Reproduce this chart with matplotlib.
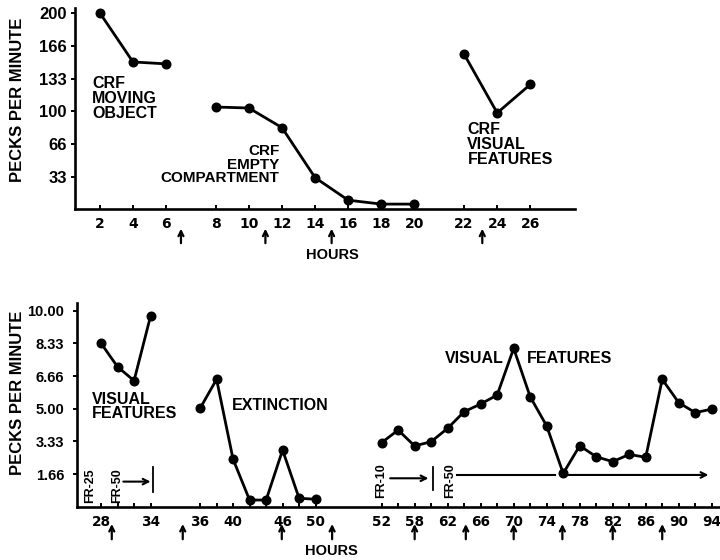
import numpy as np
import matplotlib
matplotlib.use("Agg")
import matplotlib.pyplot as plt
from matplotlib.ticker import FixedLocator

# ---------------- data: hours and pecks per minute ----------------
# upper panel (CRF sessions)
moving_hours = [2, 4, 6]
moving_rate = [200, 150, 148]
empty_hours = [8, 10, 12, 14, 16, 18, 20]
empty_rate = [104, 103, 83, 32, 9, 5, 5]
crf_visual_hours = [22, 24, 26]
crf_visual_rate = [158, 98, 127]
top_tick_hours = [2, 4, 6, 8, 10, 12, 14, 16, 18, 20, 22, 24, 26]
top_arrow_hours = [6.6, 11, 15, 23.1]
top_yticks = [200, 166, 133, 100, 66, 33]
top_ylabels = ["200", "166", "133", "100", "66", "33"]

# lower panel (FR sessions and extinction)
fr_visual_hours = [28, 30, 32, 34]
fr_visual_rate = [8.34, 7.14, 6.43, 9.73]
extinction_hours = [36, 38, 40, 42, 44, 46, 48, 50]
extinction_rate = [5.02, 6.50, 2.42, 0.34, 0.34, 2.89, 0.43, 0.38]
late_hours = [52, 55, 58, 60, 62, 64, 66, 68, 70, 72, 74, 76, 78, 80,
              82, 84, 86, 88, 90, 92, 94]
late_rate = [3.27, 3.91, 3.10, 3.32, 4.00, 4.85, 5.24, 5.70, 8.08, 5.61,
             4.12, 1.70, 3.11, 2.55, 2.30, 2.67, 2.52, 6.50, 5.31, 4.80, 4.98]
bottom_tick_hours = [28, 34, 36, 40, 46, 50, 52, 58, 62, 66, 70, 74, 78,
                     82, 86, 90, 94]
bottom_arrow_hours = [29.3, 35.3, 45.9, 50.5, 58, 64.2, 70, 75.9, 82, 88]
bottom_yticks = [10.0, 8.33, 6.66, 5.0, 3.33, 1.66]
bottom_ylabels = ["10.00", "8.33", "6.66", "5.00", "3.33", "1.66"]

# ---------------- broken hour axes (gaps between sessions) ----------------
def piecewise_scale(knot_hours, knot_pos):
    kh = np.asarray(knot_hours, float)
    kp = np.asarray(knot_pos, float)
    return (lambda x: np.interp(x, kh, kp), lambda p: np.interp(p, kp, kh))

top_scale = piecewise_scale([-100, 6, 8, 20, 22, 300],
                            [-100, 6, 9, 21, 24, 302])
bottom_scale = piecewise_scale([-100, 34, 36, 50, 52, 58, 300],
                               [-100, 34, 40, 54, 62, 66, 308])

TICK_FONT = ["DejaVu Sans"]
TEXT_FONT = ["Liberation Sans", "DejaVu Sans"]
LINE = dict(color="black", lw=2.0, marker="o", ms=6.2, mfc="black",
            mec="black", clip_on=False, solid_joinstyle="round")

fig = plt.figure(figsize=(7.2, 5.6), dpi=100)
W, H = 720.0, 560.0
ax1 = fig.add_axes([75 / W, 1 - 209 / H, 500 / W, 201 / H])
ax2 = fig.add_axes([76.7 / W, 1 - 506.7 / H, 643.3 / W, 203.4 / H])

for ax in (ax1, ax2):
    for side in ("top", "right"):
        ax.spines[side].set_visible(False)
    for side in ("left", "bottom"):
        ax.spines[side].set_linewidth(1.9)
    ax.set_facecolor("white")

# ---------------- upper panel ----------------
ax1.set_xscale("function", functions=top_scale)
ax1.plot(moving_hours, moving_rate, **LINE)
ax1.plot(empty_hours, empty_rate, **LINE)
ax1.plot(crf_visual_hours, crf_visual_rate, **LINE)
ax1.set_xlim(0.5, 28.7)
ax1.set_ylim(0, 205)
ax1.xaxis.set_major_locator(FixedLocator(top_tick_hours))
ax1.set_xticklabels([str(h) for h in top_tick_hours],
                    family=TICK_FONT, weight="bold", fontsize=10)
ax1.set_yticks(top_yticks)
ax1.set_yticklabels(top_ylabels, family=TEXT_FONT, weight="bold",
                    fontsize=12)
ax1.tick_params(axis="x", direction="in", length=3, width=1.4, pad=6)
ax1.tick_params(axis="y", direction="out", length=3, width=1.4, pad=3)

for h in top_arrow_hours:
    ax1.annotate("", xy=(h, -0.098), xytext=(h, -0.17),
                 xycoords=("data", "axes fraction"),
                 textcoords=("data", "axes fraction"),
                 arrowprops=dict(arrowstyle="->", lw=1.6, color="black",
                                 shrinkA=0, shrinkB=0,
                                 mutation_scale=9),
                 annotation_clip=False)

ax1.text(1.52, 136, "CRF\nMOVING\nOBJECT", ha="left", va="top",
         family=TEXT_FONT, weight="bold", fontsize=11.5, linespacing=1.0)
ax1.text(11.85, 66, "CRF\nEMPTY\nCOMPARTMENT", ha="right", va="top",
         multialignment="right", family=TEXT_FONT, weight="bold",
         fontsize=11, linespacing=0.95)
ax1.text(22.2, 89, "CRF\nVISUAL\nFEATURES", ha="left", va="top",
         family=TEXT_FONT, weight="bold", fontsize=11.5, linespacing=1.0)

# ---------------- lower panel ----------------
ax2.set_xscale("function", functions=bottom_scale)
ax2.plot(fr_visual_hours, fr_visual_rate, **LINE)
ax2.plot(extinction_hours, extinction_rate, **LINE)
ax2.plot(late_hours, late_rate, **LINE)
ax2.set_xlim(25.05, 95.0)
ax2.set_ylim(0, 10.38)
ax2.xaxis.set_major_locator(FixedLocator(bottom_tick_hours))
ax2.xaxis.set_minor_locator(
    FixedLocator(fr_visual_hours + extinction_hours + late_hours))
ax2.set_xticklabels([str(h) for h in bottom_tick_hours],
                    family=TICK_FONT, weight="bold", fontsize=9.8)
ax2.set_yticks(bottom_yticks)
ax2.set_yticklabels(bottom_ylabels, family=TEXT_FONT, weight="bold",
                    fontsize=10.5)
ax2.tick_params(axis="x", which="both", direction="in", length=3,
                width=1.4, pad=6)
ax2.tick_params(axis="y", direction="out", length=3, width=1.4, pad=6)

for h in bottom_arrow_hours:
    ax2.annotate("", xy=(h, -0.085), xytext=(h, -0.16),
                 xycoords=("data", "axes fraction"),
                 textcoords=("data", "axes fraction"),
                 arrowprops=dict(arrowstyle="->", lw=1.6, color="black",
                                 shrinkA=0, shrinkB=0,
                                 mutation_scale=9),
                 annotation_clip=False)

ax2.text(26.87, 5.85, "VISUAL\nFEATURES", ha="left", va="top",
         family=TEXT_FONT, weight="bold", fontsize=11.5, linespacing=0.9)
ax2.text(39.84, 5.19, "EXTINCTION", ha="left", va="center",
         family=TEXT_FONT, weight="bold", fontsize=11.5)
ax2.text(61.7, 7.54, "VISUAL", ha="left", va="center",
         family=TEXT_FONT, weight="bold", fontsize=11.5)
ax2.text(71.6, 7.54, "FEATURES", ha="left", va="center",
         family=TEXT_FONT, weight="bold", fontsize=11.5)

# fixed-ratio schedule markers
FR = dict(rotation=90, ha="center", va="bottom", family=TEXT_FONT,
          weight="bold", fontsize=9)
ax2.text(26.67, 0.19, "FR-25", **FR)
ax2.text(30.0, 0.19, "FR-50", **FR)
ax2.text(51.97, 0.43, "FR-10", **FR)
ax2.text(62.3, 0.43, "FR-50", **FR)

ARROW = dict(arrowstyle="->", lw=1.5, color="black", shrinkA=0, shrinkB=0,
             mutation_scale=10)
ax2.annotate("", xy=(34.0, 1.28), xytext=(30.7, 1.28), arrowprops=ARROW)
ax2.plot([34.11, 34.11], [0.77, 2.04], color="black", lw=1.3)
ax2.annotate("", xy=(59.67, 1.45), xytext=(53.55, 1.45), arrowprops=ARROW)
ax2.plot([60.2, 60.2], [0.85, 2.04], color="black", lw=1.3)
ax2.plot([63.1, 75.0], [1.62, 1.62], color="black", lw=1.5)
ax2.annotate("", xy=(93.6, 1.62), xytext=(76.6, 1.62), arrowprops=ARROW)

# ---------------- axis titles ----------------
LABEL = dict(family=TEXT_FONT, weight="bold", fontsize=12)
fig.text(18 / W, 1 - 100 / H, "PECKS PER MINUTE", rotation=90,
         ha="center", va="center", **LABEL)
fig.text(18 / W, 1 - 393 / H, "PECKS PER MINUTE", rotation=90,
         ha="center", va="center", **LABEL)
fig.text(332.5 / W, 1 - 255 / H, "HOURS", ha="center", va="center",
         family=TEXT_FONT, weight="bold", fontsize=10.5)
fig.text(331.7 / W, 1 - 551 / H, "HOURS", ha="center", va="center",
         family=TEXT_FONT, weight="bold", fontsize=10.5)

fig.savefig("out.png", dpi=100, facecolor="white")
